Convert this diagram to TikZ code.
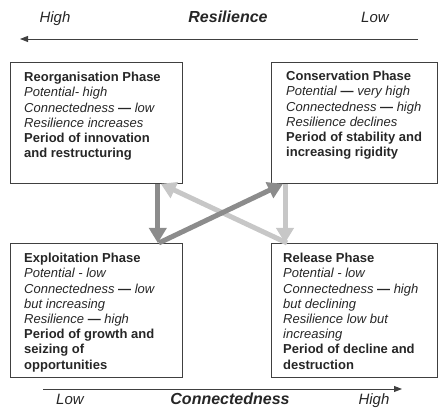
\documentclass[tikz,border=0pt]{standalone}
\usepackage{fontspec}
\setmainfont{Liberation Sans}
\usetikzlibrary{arrows.meta, calc}

\newcommand{\phasedash}{\textbf{\textemdash}}

\begin{document}
\begin{tikzpicture}[x=1pt, y=1pt, text=black!85,
  phase/.style={draw=black!75, line width=0.8pt, inner sep=0pt, anchor=north west},
  phasetext/.style={anchor=north west, inner sep=0pt, align=left, font=\fontsize{13}{15.2}\selectfont},
  darkflow/.style={draw=black!45, line width=5pt, -{Triangle[length=15pt, width=17pt]}},
  lightflow/.style={draw=black!22, line width=5pt, -{Triangle[length=15pt, width=17pt]}},
  axis/.style={draw=black!75, line width=0.9pt, -{Triangle[length=8pt, width=6pt]}},
  axistitle/.style={anchor=base, font=\fontsize{16}{18}\selectfont\bfseries\itshape},
  axisend/.style={anchor=base, font=\fontsize{15}{18}\selectfont\itshape}]

\useasboundingbox (0, 0) rectangle (439, 419);

\path (10, 357) node[phase, minimum width=172pt, minimum height=121pt] (reorg) {}
      (271, 357) node[phase, minimum width=166pt, minimum height=121pt] (conserv) {}
      (10, 176) node[phase, minimum width=172pt, minimum height=134pt] (exploit) {}
      (271, 176) node[phase, minimum width=166pt, minimum height=134pt] (release) {};

\path ($(reorg.north west)+(14, -10)$) node[phasetext] (reorgtxt)
        {\textbf{Reorganisation Phase}\\ \textit{Potential- high}\\
         \textit{Connectedness} \phasedash\ \textit{low}\\ \textit{Resilience increases}\\
         \textbf{Period of innovation}\\ \textbf{and restructuring}}
      ($(conserv.north west)+(15, -9)$) node[phasetext] (conservtxt)
        {\textbf{Conservation Phase}\\ \textit{Potential} \phasedash\ \textit{very high}\\
         \textit{Connectedness} \phasedash\ \textit{high}\\ \textit{Resilience declines}\\
         \textbf{Period of stability and}\\ \textbf{increasing rigidity}}
      ($(exploit.north west)+(14, -10)$) node[phasetext] (exploittxt)
        {\textbf{Exploitation Phase}\\ \textit{Potential - low}\\
         \textit{Connectedness} \phasedash\ \textit{low}\\ \textit{but increasing}\\
         \textit{Resilience} \phasedash\ \textit{high}\\
         \textbf{Period of growth and}\\ \textbf{seizing of}\\ \textbf{opportunities}}
      ($(release.north west)+(12, -10)$) node[phasetext] (releasetxt)
        {\textbf{Release Phase}\\ \textit{Potential - low}\\
         \textit{Connectedness} \phasedash\ \textit{high}\\ \textit{but declining}\\
         \textit{Resilience low but}\\ \textit{increasing}\\
         \textbf{Period of decline and}\\ \textbf{destruction}};

% adaptive cycle
\draw[lightflow] ($(release.north west)+(16, 0)$) -- ($(reorg.south east)+(-22, 0)$);
\draw[lightflow] ($(conserv.south west)+(14, 0)$) -- ($(release.north west)+(14, 0)$);
\draw[darkflow] ($(reorg.south east)+(-25, 0)$) -- ($(exploit.north east)+(-25, 0)$);
\draw[darkflow] ($(exploit.north east)+(-24, 0)$) -- ($(conserv.south west)+(12, 0)$);

% axes
\coordinate (reslow) at (418, 380);
\coordinate (reshigh) at (20, 380);
\coordinate (conlow) at (43, 30);
\coordinate (conhigh) at (402, 30);
\draw[axis] (reslow) -- (reshigh);
\draw[axis] (conlow) -- (conhigh);

\node[axisend] (reshighlbl) at (55, 396) {High};
\node[axistitle] (restitle) at (228, 396) {Resilience};
\node[axisend] (reslowlbl) at (375, 396) {Low};
\node[axisend] (conlowlbl) at (70, 14) {Low};
\node[axistitle] (contitle) at (230, 14) {Connectedness};
\node[axisend] (conhighlbl) at (374, 14) {High};
\end{tikzpicture}
\end{document}
